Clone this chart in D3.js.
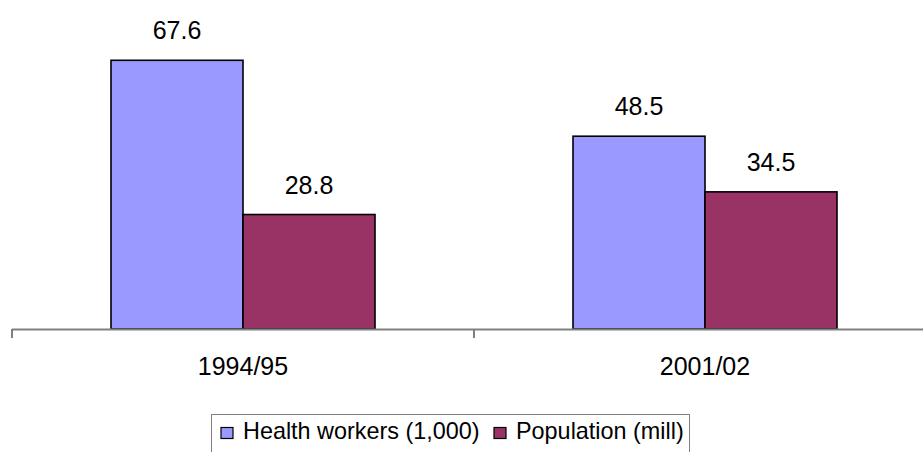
<!DOCTYPE html>
<html>
<head>
<meta charset="utf-8">
<script src="https://cdn.jsdelivr.net/npm/d3@7"></script>
<style>
  body { margin: 0; background: #fff; }
  text { font-family: "Liberation Sans", Arial, sans-serif; fill: #000; }
</style>
</head>
<body>
<div id="chart"></div>
<script>
const width = 923;
const height = 452;

// chart data
const categories = ["1994/95", "2001/02"];
const seriesNames = ["Health workers (1,000)", "Population (mill)"];
const healthWorkers = [67.6, 48.5];
const population = [28.8, 34.5];
const colors = ["#9999FF", "#993366"];

const rows = categories.map((c, i) => ({
    cat: c,
    values: [healthWorkers[i], population[i]]
}));

const svg = d3.select("#chart")
    .append("svg")
    .attr("width", width)
    .attr("height", height);

const baseY = 329;

// category bands, each group spans half the axis
const x0 = d3.scaleBand()
    .domain(categories)
    .range([12, 936])
    .paddingInner(0)
    .paddingOuter(0);

// bars inside a group
const x1 = d3.scaleBand()
    .domain(d3.range(seriesNames.length))
    .range([0, x0.bandwidth()])
    .paddingInner(0)
    .paddingOuter(0.75);

const y = d3.scaleLinear()
    .domain([0, 80])
    .range([baseY, 11]);

// bars
const groups = svg.append("g")
    .selectAll("g")
    .data(rows)
    .join("g")
    .attr("transform", d => `translate(${x0(d.cat)},0)`);

groups.selectAll("rect")
    .data(d => d.values.map((v, i) => ({ v, i })))
    .join("rect")
    .attr("x", d => x1(d.i))
    .attr("y", d => y(d.v))
    .attr("width", x1.bandwidth())
    .attr("height", d => baseY - y(d.v))
    .attr("fill", d => colors[d.i])
    .attr("stroke", "#000")
    .attr("stroke-width", 1.6);

// value labels
groups.selectAll("text")
    .data(d => d.values.map((v, i) => ({ v, i })))
    .join("text")
    .attr("x", d => x1(d.i) + x1.bandwidth() / 2)
    .attr("y", d => y(d.v) - 21)
    .attr("text-anchor", "middle")
    .attr("font-size", 25)
    .text(d => d.v.toFixed(1));

// category axis
const axis = svg.append("g");
axis.append("line")
    .attr("x1", 12)
    .attr("x2", width)
    .attr("y1", baseY + 0.5)
    .attr("y2", baseY + 0.5)
    .attr("stroke", "#808080")
    .attr("stroke-width", 2);

const boundaries = categories.map(c => x0(c)).concat([x0.range()[1]]);
axis.selectAll("line.tick")
    .data(boundaries)
    .join("line")
    .attr("class", "tick")
    .attr("x1", d => d)
    .attr("x2", d => d)
    .attr("y1", baseY)
    .attr("y2", baseY + 9)
    .attr("stroke", "#808080")
    .attr("stroke-width", 2);

axis.selectAll("text")
    .data(categories)
    .join("text")
    .attr("x", d => x0(d) + x0.bandwidth() / 2)
    .attr("y", 375)
    .attr("text-anchor", "middle")
    .attr("font-size", 25)
    .text(d => d);

// legend
const legend = svg.append("g");
legend.append("rect")
    .attr("x", 211.5)
    .attr("y", 414.5)
    .attr("width", 478)
    .attr("height", 60)
    .attr("fill", "#fff")
    .attr("stroke", "#808080")
    .attr("stroke-width", 1);

const legendX = [221, 494];
const items = legend.selectAll("g")
    .data(seriesNames)
    .join("g")
    .attr("transform", (d, i) => `translate(${legendX[i]},0)`);

items.append("rect")
    .attr("x", 0)
    .attr("y", 427.5)
    .attr("width", 12)
    .attr("height", 11)
    .attr("fill", (d, i) => colors[i])
    .attr("stroke", "#000")
    .attr("stroke-width", 1.2);

items.append("text")
    .attr("x", 22)
    .attr("y", 439)
    .attr("font-size", 23.4)
    .text(d => d);
</script>
</body>
</html>
